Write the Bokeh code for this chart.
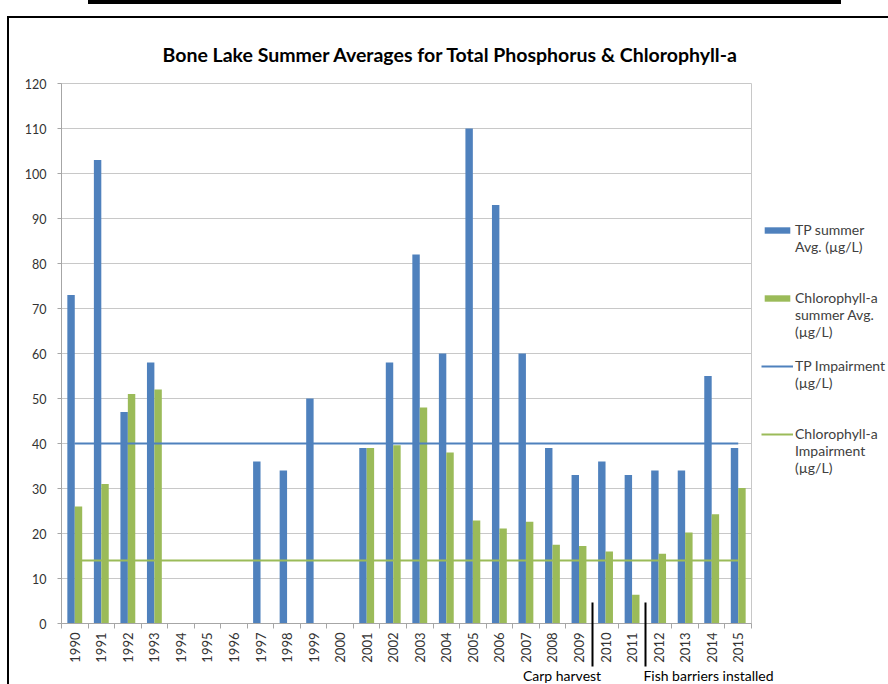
import numpy as np
from bokeh.plotting import figure
from bokeh.models import (Range1d, FixedTicker, SingleIntervalTicker, ColumnDataSource,
                          Legend, LegendItem, LinearAxis)
from bokeh.transform import dodge
from bokeh.embed import file_html
from bokeh.resources import INLINE

nan = np.nan
years = ["1990", "1991", "1992", "1993", "1994", "1995", "1996", "1997", "1998",
         "1999", "2000", "2001", "2002", "2003", "2004", "2005", "2006", "2007",
         "2008", "2009", "2010", "2011", "2012", "2013", "2014", "2015"]
tp_avg = [73, 103, 47, 58, nan, nan, nan, 36, 34, 50, nan, 39, 58, 82, 60, 110,
          93, 60, 39, 33, 36, 33, 34, 34, 55, 39]
chl_avg = [26, 31, 51, 52, nan, nan, nan, nan, nan, nan, nan, 39, 39.6, 48, 38,
           22.9, 21.1, 22.6, 17.5, 17.2, 16, 6.4, 15.5, 20.2, 24.3, 30.1]
TP_IMPAIRMENT = 40
CHL_IMPAIRMENT = 14
event_texts = ["Carp harvest", "Fish barriers installed"]
event_after_years = ["2009", "2011"]

FONT = "Lato"
BLUE = "#4F81BD"
GREEN = "#9BBB59"
TXT = "#333333"

idx = list(range(len(years)))
src = ColumnDataSource(dict(
    x=idx, tp=tp_avg, chl=chl_avg,
    tp_imp=[TP_IMPAIRMENT] * len(years),
    chl_imp=[CHL_IMPAIRMENT] * len(years),
))

p = figure(width=888, height=684, output_backend="svg", toolbar_location=None,
           x_range=Range1d(-0.5, len(years) - 0.5), y_range=Range1d(0, 120),
           frame_width=690, frame_height=540,
           min_border_left=61, min_border_top=83, min_border_right=137,
           min_border_bottom=61)
p.border_fill_alpha = 0
p.styles = {
    "background-image": "linear-gradient(#000,#000), linear-gradient(#000,#000), linear-gradient(#000,#000)",
    "background-size": "2px 100%, 100% 2px, 753px 4px",
    "background-position": "7px 16px, 7px 16px, 88px 0px",
    "background-repeat": "no-repeat",
}

p.title.text = "Bone Lake Summer Averages for Total Phosphorus & Chlorophyll-a"
p.title.text_font = FONT
p.title.text_font_size = "19.5px"
p.title.text_font_style = "bold"
p.title.text_color = "#000000"
p.title.align = "left"
p.title.offset = 101
p.title.standoff = 35

bw = 0.28
r_tp = p.vbar(x=dodge("x", -bw / 2), top="tp", source=src, width=bw,
              fill_color=BLUE, line_color=None)
r_chl = p.vbar(x=dodge("x", bw / 2), top="chl", source=src, width=bw,
               fill_color=GREEN, line_color=None)
r_tpl = p.line(x="x", y="tp_imp", source=src, line_color=BLUE, line_width=2)
r_chll = p.line(x="x", y="chl_imp", source=src, line_color=GREEN, line_width=2)

# x axis with year labels
xa = p.xaxis[0]
xa.ticker = FixedTicker(ticks=idx, minor_ticks=[i - 0.5 for i in range(len(years) + 1)])
xa.major_label_overrides = {i: y for i, y in enumerate(years)}
xa.major_label_orientation = np.pi / 2
xa.major_tick_line_color = None
xa.major_tick_in = 0
xa.major_tick_out = 0
xa.minor_tick_in = 0
xa.minor_tick_out = 5
xa.minor_tick_line_color = "#A6A6A6"
xa.axis_line_color = "#A6A6A6"
xa.major_label_text_font = FONT
xa.major_label_text_font_size = "13px"
xa.major_label_text_color = TXT
xa.major_label_standoff = 4

# second axis carrying the event marker lines
ev_pos = [years.index(y) + 0.5 for y in event_after_years]
xb = LinearAxis(ticker=FixedTicker(ticks=ev_pos, minor_ticks=[]),
                axis_line_color=None, major_tick_in=63, major_tick_out=1,
                major_tick_line_color="black", major_tick_line_width=2,
                minor_tick_line_color=None, major_label_standoff=0,
                major_label_text_font_size="0px",
                major_label_overrides={v: "" for v in ev_pos})
p.add_layout(xb, "below")

# third axis carrying the event texts
ev_text_pos = [ev_pos[0] - 1.14, ev_pos[1] + 2.38]
xc = LinearAxis(ticker=FixedTicker(ticks=ev_text_pos, minor_ticks=[]),
                axis_line_color=None, major_tick_in=0, major_tick_out=0,
                major_tick_line_color=None, minor_tick_line_color=None,
                major_label_standoff=0, major_label_text_font=FONT,
                major_label_text_font_size="14px", major_label_text_color="#000000",
                major_label_overrides={v: t for v, t in zip(ev_text_pos, event_texts)})
p.add_layout(xc, "below")

ya = p.yaxis[0]
ya.ticker = SingleIntervalTicker(interval=10)
ya.major_tick_in = 0
ya.major_tick_out = 4
ya.major_tick_line_color = "#A6A6A6"
ya.minor_tick_line_color = None
ya.axis_line_color = "#A6A6A6"
ya.major_label_text_font = FONT
ya.major_label_text_font_size = "12.5px"
ya.major_label_text_color = TXT
ya.major_label_standoff = 11

p.xgrid.grid_line_color = None
p.ygrid.ticker = SingleIntervalTicker(interval=10)
p.ygrid.grid_line_color = "#C8C8C8"
p.outline_line_color = "#C8C8C8"

# legend (first text line aligned with glyph)
B = " "
legend = Legend(items=[
    LegendItem(label=f"{B}\nTP summer\nAvg. (µg/L)", renderers=[r_tp]),
    LegendItem(label=f"{B}\n{B}\nChlorophyll-a\nsummer Avg.\n(µg/L)", renderers=[r_chl]),
    LegendItem(label=f"{B}\nTP Impairment\n(µg/L)", renderers=[r_tpl]),
    LegendItem(label=f"{B}\n{B}\nChlorophyll-a\nImpairment\n(µg/L)", renderers=[r_chll]),
], location="top_left", border_line_color=None, background_fill_alpha=0,
    label_text_font=FONT, label_text_font_size="14px", label_text_color="#404040",
    glyph_width=32, glyph_height=8, spacing=0, padding=12, margin=10,
    label_standoff=2, title=" ", title_text_font_size="13px", title_standoff=96)
p.add_layout(legend, "right")

open("out.html", "w").write(file_html(p, INLINE))
